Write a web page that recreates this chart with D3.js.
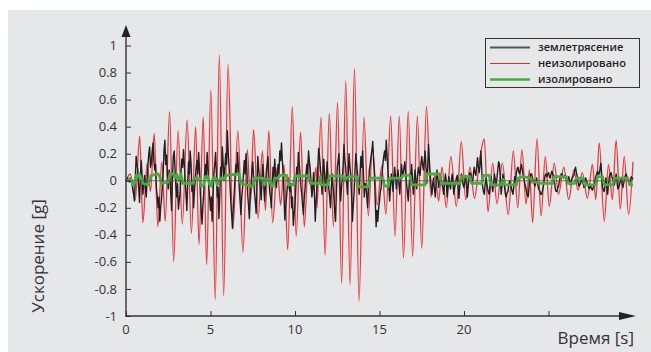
<!DOCTYPE html>
<html><head><meta charset="utf-8">
<script src="https://cdn.jsdelivr.net/npm/d3@7"></script>
<style>
html,body{margin:0;padding:0;background:#fff;}
svg{display:block;}
text{font-family:"Open Sans","Noto Sans",sans-serif;}
</style></head>
<body>
<svg id="chart" width="651" height="352"></svg>
<script>
// ---- data ----
const xTicks = [0, 5, 10, 15, 20, 25];
const xTickLabels = ["0", "5", "10", "15", "20", ""];
const yTicks = [1, 0.8, 0.6, 0.4, 0.2, 0, -0.2, -0.4, -0.6, -0.8, -1];
const yTickLabels = ["1", "0.8", "0.6", "0.4", "0.2", "0", "-0.2", "-0.4", "-0.6", "-0.8", "-1"];
const seriesNames = ["землетрясение", "неизолировано", "изолировано"];
const xLabel = "Время [s]";
const yLabel = "Ускорение [g]";

// earthquake: sampled every 0.05 s from 0 to 30 s (one row per second)
const quakeStep = 0.05;
const quake = [
 0.00, 0.01, 0.02, 0.00,-0.01, 0.02, 0.01,-0.02,-0.06,-0.10,-0.15, 0.02, 0.18, 0.12, 0.08,-0.05,-0.16, 0.02, 0.15, 0.04,
-0.10,-0.02, 0.04,-0.06,-0.12, 0.02, 0.12, 0.20, 0.25, 0.10, 0.13, 0.22, 0.28, 0.15, 0.08, 0.12,-0.06,-0.12,-0.20,-0.12,
-0.30,-0.20,-0.14,-0.04, 0.06, 0.22, 0.30, 0.12, 0.19, 0.05,-0.06, 0.08, 0.03,-0.10,-0.22, 0.02, 0.18, 0.22, 0.09,-0.04,
-0.12,-0.02,-0.21,-0.15,-0.09, 0.05, 0.16, 0.10, 0.23, 0.12, 0.01,-0.10,-0.22,-0.02, 0.14, 0.05, 0.22, 0.12,-0.08,-0.02,
-0.20,-0.08, 0.01, 0.10, 0.15, 0.05, 0.21, 0.08,-0.10,-0.22,-0.32,-0.18,-0.09, 0.05, 0.12, 0.02, 0.21, 0.10,-0.05,-0.12,
-0.22,-0.12,-0.30,-0.10, 0.05, 0.12, 0.21, 0.05,-0.12,-0.05,-0.28,-0.10, 0.10, 0.02, 0.25, 0.12, 0.00, 0.10, 0.20, 0.12,
 0.37, 0.20, 0.10,-0.02,-0.15,-0.25,-0.35,-0.20,-0.10, 0.02, 0.12, 0.05, 0.21, 0.10,-0.05,-0.15,-0.25,-0.12,-0.05, 0.05,
 0.15, 0.05, 0.20, 0.08,-0.10,-0.18,-0.28,-0.12,-0.04, 0.08, 0.14, 0.02,-0.08,-0.15,-0.24,-0.05, 0.18, 0.08, 0.02,-0.06,
-0.14, 0.02, 0.12,-0.02,-0.15,-0.05, 0.06, 0.12, 0.18, 0.04,-0.08,-0.12,-0.20,-0.05, 0.10, 0.02, 0.16, 0.05,-0.05, 0.04,
 0.12, 0.05, 0.22, 0.15, 0.28, 0.15, 0.05,-0.12,-0.29,-0.20,-0.12,-0.04, 0.02,-0.05,-0.08,-0.02,-0.20,-0.12,-0.33,-0.25,
-0.18,-0.05, 0.10, 0.04, 0.21, 0.12, 0.05,-0.04,-0.10,-0.18,-0.25,-0.12,-0.05, 0.05, 0.12, 0.02, 0.22, 0.14, 0.08,-0.02,
-0.12,-0.04, 0.06,-0.10,-0.30,-0.15,-0.05, 0.10, 0.24, 0.18, 0.10, 0.02,-0.10, 0.04, 0.16, 0.05,-0.08, 0.02, 0.14, 0.04,
-0.06,-0.12,-0.20,-0.05, 0.05,-0.04,-0.12,-0.22,-0.30,-0.08, 0.10, 0.15, 0.20, 0.02,-0.15,-0.05, 0.02, 0.12, 0.27, 0.15,
 0.10, 0.00,-0.10, 0.05, 0.20, 0.10, 0.04,-0.12,-0.30,-0.18,-0.08, 0.08, 0.20, 0.12, 0.05,-0.04,-0.10, 0.05, 0.18, 0.10,
 0.22, 0.05,-0.12,-0.02,-0.04,-0.12,-0.20,-0.05, 0.08, 0.12, 0.18, 0.22, 0.29, 0.15, 0.05,-0.15,-0.34,-0.22,-0.30,-0.20,
-0.15,-0.08,-0.05, 0.05, 0.12, 0.18, 0.22, 0.15, 0.30, 0.18, 0.08,-0.04,-0.15,-0.05, 0.05, 0.00,-0.08, 0.02, 0.10, 0.02,
-0.06, 0.02, 0.08,-0.02,-0.10, 0.02, 0.12, 0.06, 0.04, 0.10, 0.14, 0.05,-0.02,-0.08,-0.15,-0.04, 0.05, 0.02, 0.12, 0.02,
-0.10,-0.02, 0.08, 0.00,-0.06, 0.04, 0.10, 0.06, 0.04, 0.12, 0.18, 0.12, 0.08, 0.15, 0.22, 0.10,-0.02, 0.10, 0.27, 0.15,
 0.05,-0.04,-0.10,-0.02, 0.02,-0.06,-0.12,-0.02, 0.08, 0.02,-0.05, 0.00, 0.04, 0.01,-0.02,-0.06,-0.10,-0.02, 0.05, 0.00,
-0.12,-0.04, 0.03,-0.02,-0.06, 0.00, 0.05,-0.03,-0.10,-0.05,-0.02, 0.02, 0.04,-0.05,-0.13,-0.04, 0.02, 0.05, 0.00,-0.03,
-0.05, 0.00, 0.04,-0.04,-0.12,-0.04, 0.02, 0.06, 0.05, 0.01,-0.02, 0.04, 0.10, 0.06, 0.04, 0.10, 0.17, 0.10, 0.06, 0.12,
 0.22, 0.08,-0.04,-0.08,-0.10,-0.03, 0.02,-0.02,-0.06,-0.09,-0.10,-0.02, 0.03,-0.03,-0.08,-0.02, 0.05, 0.01,-0.04, 0.02,
 0.08, 0.14, 0.12, 0.02,-0.10,-0.03, 0.05, 0.00,-0.05,-0.10,-0.12,-0.09,-0.08,-0.03, 0.00,-0.03,-0.05,-0.08,-0.10,-0.04,
 0.03, 0.00, 0.06, 0.09, 0.10, 0.06, 0.05, 0.09, 0.12, 0.08, 0.04, 0.01,-0.02,-0.05,-0.08,-0.11,-0.12,-0.05, 0.02, 0.05,
 0.05, 0.02, 0.00,-0.02,-0.04,-0.01, 0.02,-0.02,-0.05,-0.07,-0.08,-0.10,-0.10,-0.07,-0.04, 0.00, 0.04, 0.05, 0.03, 0.05,
 0.06, 0.03, 0.02, 0.05, 0.07, 0.05, 0.04, 0.00,-0.06,-0.08,-0.08,-0.05,-0.04, 0.00, 0.03, 0.05, 0.05, 0.03, 0.02, 0.04,
 0.04, 0.01,-0.02, 0.01, 0.03, 0.00,-0.03, 0.00, 0.02, 0.03, 0.04, 0.08, 0.10, 0.06, 0.03,-0.01,-0.04,-0.03,-0.02, 0.00,
 0.01,-0.02,-0.05,-0.01, 0.02, 0.00,-0.02,-0.04,-0.06,-0.05,-0.04,-0.06,-0.07,-0.05,-0.03, 0.00, 0.03, 0.05, 0.07, 0.05,
 0.05, 0.09, 0.13, 0.04,-0.05,-0.07,-0.08,-0.03, 0.02,-0.04,-0.10,-0.03, 0.03, 0.05, 0.06, 0.03, 0.01,-0.01,-0.03, 0.01,
 0.05, 0.00,-0.06,-0.05,-0.03, 0.00, 0.02,-0.02,-0.05,-0.02, 0.02, 0.04, 0.05, 0.02, 0.00,-0.01,-0.02, 0.00, 0.03, 0.02,
 0.01
];

// non-isolated response: turning points [time s, g]
const unisolatedT = [0,0.25,0.55,0.81,1.0,1.25,1.45,1.67,1.88,2.12,2.32,2.58,2.82,3.08,3.33,3.62,3.87,4.12,4.32,4.57,4.77,5.02,5.28,5.52,5.78,6.04,6.33,6.62,6.92,7.18,7.36,7.55,7.82,8.07,8.25,8.45,8.68,8.95,9.15,9.35,9.57,9.84,10.07,10.33,10.55,10.8,11.02,11.25,11.3,11.54,11.78,12.03,12.27,12.52,12.76,13.0,13.26,13.52,13.79,14.08,14.34,14.58,14.87,15.13,15.38,15.66,15.92,16.17,16.42,16.7,16.96,17.24,17.5,17.78,18.04,18.28,18.5,18.7,18.95,19.22,19.55,19.84,20.1,20.35,20.62,20.92,21.2,21.42,21.7,21.95,22.27,22.62,22.92,23.18,23.43,23.67,23.87,24.06,24.32,24.56,24.81,25.05,25.34,25.6,25.9,26.2,26.5,26.75,27.0,27.3,27.6,27.8,28.0,28.3,28.55,28.78,29.0,29.25,29.48,29.74,30.0];
const unisolatedV = [0,0.05,-0.14,0.33,-0.31,0.13,-0.08,0.35,-0.34,0.14,-0.3,0.51,-0.6,0.37,-0.32,0.45,-0.39,0.4,-0.47,0.47,-0.62,0.67,-0.88,0.93,-0.85,0.86,-0.36,0.37,-0.53,0.23,-0.17,0.38,-0.28,0.22,-0.22,0.37,-0.31,0.1,-0.18,0.12,-0.51,0.55,-0.41,0.36,-0.34,0.18,-0.1,0.1,-0.2,0.47,-0.55,0.5,-0.34,0.58,-0.76,0.74,-0.77,0.83,-0.89,0.47,-0.26,0.25,-0.18,0.11,-0.25,0.48,-0.41,0.48,-0.57,0.51,-0.56,0.48,-0.5,0.55,-0.12,0.04,-0.15,0.1,-0.2,0.18,-0.19,0.29,-0.14,0.1,-0.13,0.15,0.31,-0.23,0.13,-0.17,0.13,-0.25,0.22,-0.2,0.23,-0.17,0.08,-0.31,0.31,-0.26,0.18,-0.19,0.13,-0.1,0.1,-0.14,0.08,-0.07,0.06,-0.13,0.12,-0.14,0.28,-0.3,0.12,-0.14,0.3,-0.21,0.18,-0.25,0.14];

// isolated response: corner points [time s, g]
const isolatedT = [0,0.3,0.4,0.5,0.6,0.7,0.8,0.9,1.0,1.3,1.4,1.5,1.9,2.0,2.1,2.5,2.6,2.8,2.9,3.0,3.1,3.25,3.35,3.95,4.05,4.35,4.45,4.6,4.7,4.85,4.95,5.05,5.15,5.3,5.4,5.5,5.6,5.8,5.9,6.7,6.8,7.4,7.5,7.6,8.1,8.2,8.3,8.5,8.6,8.7,8.8,9.0,9.1,9.5,9.6,9.9,10.0,10.8,10.9,11.45,11.5,11.55,11.95,12.05,12.85,12.95,13.05,13.2,13.65,13.75,14.35,14.45,15.2,15.3,15.5,15.6,16.3,16.4,16.8,16.9,17.7,17.8,18.55,18.65,19.75,19.85,20.35,20.45,21.05,21.15,21.5,21.6,22.2,22.3,22.45,23.1,23.2,23.5,23.95,24.05,24.35,24.45,25.25,25.35,26.05,26.15,26.55,26.65,27.05,27.15,27.8,27.9,28.2,28.3,28.8,28.9,29.7,29.8,30.0];
const isolatedV = [0,0.01,-0.03,-0.02,0.04,0.03,0.05,0.02,-0.02,-0.03,0.0,0.04,0.05,0.03,-0.02,-0.01,0.05,0.05,0.02,0.05,0.0,0.05,-0.02,-0.02,0.02,0.02,-0.04,-0.03,0.03,0.03,-0.03,-0.04,0.02,0.02,-0.03,0.0,0.02,0.01,0.04,0.05,-0.02,-0.04,-0.04,0.02,0.02,-0.03,0.01,0.01,-0.04,-0.04,0.02,0.02,0.04,0.04,-0.03,-0.03,0.035,0.035,-0.02,-0.02,0.03,-0.03,-0.03,0.035,0.035,0.0,0.02,0.03,0.03,-0.045,-0.045,0.02,0.02,-0.04,-0.04,0.02,0.02,0.04,0.04,-0.03,-0.03,0.05,0.05,-0.02,-0.02,0.03,0.03,-0.02,-0.02,0.04,0.04,-0.03,-0.03,0.01,-0.03,-0.03,0.02,0.03,0.02,-0.01,-0.01,-0.02,-0.02,0.03,0.03,-0.02,-0.02,0.02,0.02,-0.03,-0.03,0.03,0.03,-0.03,-0.03,0.02,0.02,-0.03,-0.03];

const colors = ["#231f20", "#e8262b", "#47ad3e"];

// ---- drawing ----
const svg = d3.select("#chart");
svg.append("rect").attr("x", 8).attr("y", 10).attr("width", 643).attr("height", 342).attr("fill", "#e6e7e9");

const x = d3.scaleLinear().domain([0, 30]).range([126, 633]);
const y = d3.scaleLinear().domain([-1, 1]).range([316, 45.5]);

const plot = svg.append("g");

const quakeData = quake.map((v, i) => [i * quakeStep, v]);
const redData = unisolatedT.map((t, i) => [t, unisolatedV[i]]);
const greenData = isolatedT.map((t, i) => [t, isolatedV[i]]);

plot.append("path").datum(redData)
  .attr("d", d3.line().x(d => x(d[0])).y(d => y(d[1])).curve(d3.curveMonotoneX))
  .attr("fill", "none").attr("stroke", colors[1]).attr("stroke-width", 1.3).attr("stroke-opacity", 0.9);

plot.append("path").datum(quakeData)
  .attr("d", d3.line().x(d => x(d[0])).y(d => y(d[1])))
  .attr("fill", "none").attr("stroke", colors[0]).attr("stroke-width", 1.4).attr("stroke-linejoin", "round");

plot.append("path").datum(greenData)
  .attr("d", d3.line().x(d => x(d[0])).y(d => y(d[1])))
  .attr("fill", "none").attr("stroke", colors[2]).attr("stroke-width", 2.8).attr("stroke-linejoin", "round");

// zero line
plot.append("line").attr("x1", x(0)).attr("x2", x(30)).attr("y1", y(0)).attr("y2", y(0))
  .attr("stroke", "#555").attr("stroke-width", 0.8);

// y axis
const yAxis = d3.axisRight(y).tickValues(yTicks).tickSize(5).tickFormat(() => "");
const gy = svg.append("g").attr("transform", `translate(${x(0)},0)`).call(yAxis);
gy.select(".domain").remove();
gy.selectAll(".tick line").attr("stroke", "#333").attr("stroke-width", 1);
svg.append("line").attr("x1", x(0)).attr("x2", x(0)).attr("y1", 316.5).attr("y2", 34).attr("stroke", "#333").attr("stroke-width", 1.4);
svg.append("path").attr("d", `M${x(0)-4.5},37 L${x(0)},25 L${x(0)+4.5},37 Z`).attr("fill", "#222");
svg.append("g").selectAll("text").data(yTicks).join("text")
  .attr("x", 117).attr("y", d => y(d)).attr("dy", "0.35em")
  .attr("text-anchor", "end").attr("font-size", 13).attr("fill", "#333")
  .text((d, i) => yTickLabels[i]);

// x axis
const xAxis = d3.axisTop(x).tickValues(xTicks).tickSize(5).tickFormat(() => "");
const gx = svg.append("g").attr("transform", `translate(0,${y(-1)})`).call(xAxis);
gx.select(".domain").remove();
gx.selectAll(".tick line").attr("stroke", "#333").attr("stroke-width", 1);
svg.append("line").attr("x1", x(0) - 0.7).attr("x2", 622).attr("y1", y(-1)).attr("y2", y(-1)).attr("stroke", "#333").attr("stroke-width", 1.4);
svg.append("path").attr("d", `M619,${y(-1)-4} L636,${y(-1)} L619,${y(-1)+4} Z`).attr("fill", "#222");
svg.append("g").selectAll("text").data(xTicks).join("text")
  .attr("x", d => x(d)).attr("y", 334)
  .attr("text-anchor", "middle").attr("font-size", 13).attr("fill", "#333")
  .text((d, i) => xTickLabels[i]);

// axis titles
svg.append("text").attr("x", 634).attr("y", 344).attr("text-anchor", "end")
  .attr("font-size", 17).attr("fill", "#333").text(xLabel);
svg.append("text").attr("transform", "translate(44,256) rotate(-90)").attr("text-anchor", "middle")
  .attr("font-size", 17).attr("fill", "#333").text(yLabel);

// legend
const lg = svg.append("g");
lg.append("rect").attr("x", 485.5).attr("y", 38.5).attr("width", 154).attr("height", 49)
  .attr("fill", "#e6e7e9").attr("stroke", "#333").attr("stroke-width", 1);
const rowsY = [47.5, 63.5, 79.5];
const widths = [2.1, 1.2, 2.6];
seriesNames.forEach((n, i) => {
  lg.append("line").attr("x1", 490).attr("x2", 530).attr("y1", rowsY[i]).attr("y2", rowsY[i])
    .attr("stroke", i === 0 ? "#555" : colors[i]).attr("stroke-width", widths[i]);
  lg.append("text").attr("x", 538).attr("y", rowsY[i]).attr("dy", "0.35em")
    .attr("font-size", 11).attr("font-weight", 600).attr("fill", "#222").text(n);
});
</script>
</body></html>
